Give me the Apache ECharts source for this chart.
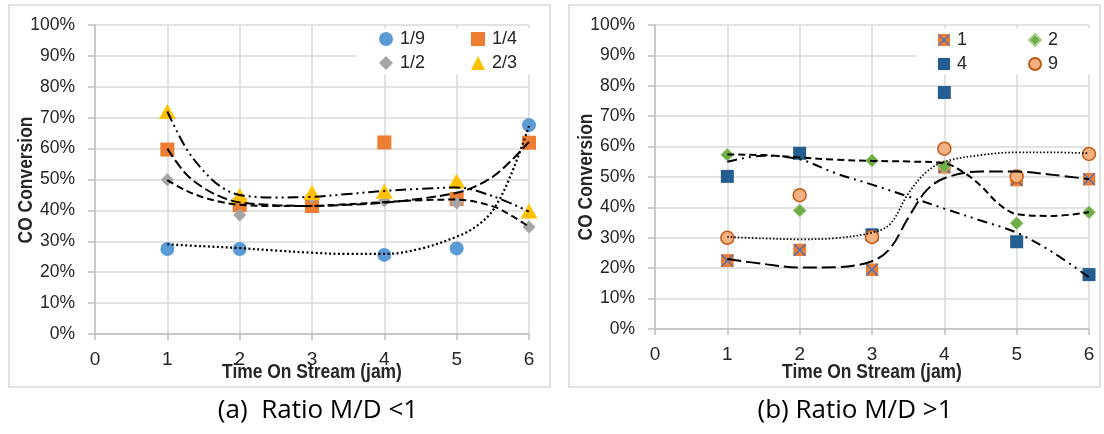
<!DOCTYPE html>
<html><head><meta charset="utf-8">
<script src="https://cdn.jsdelivr.net/npm/echarts@6/dist/echarts.min.js"></script>
<style>html,body{margin:0;padding:0;background:#fff}#c{width:1104px;height:434px}</style>
</head><body><div id="c"></div>
<script>
// ================= DATA =================
const hours = [1, 2, 3, 4, 5, 6];
const xTicks = [0, 1, 2, 3, 4, 5, 6];
const yTicks = [0, 10, 20, 30, 40, 50, 60, 70, 80, 90, 100];

// (a) Ratio M/D < 1  -- CO conversion (%)
const a19 = [27.5, 27.5, null, 25.6, 27.7, 67.6];
const a14 = [59.7, 41.7, 41.4, 62.0, 43.7, 61.9];
const a12 = [49.9, 38.5, 44.3, 43.1, 42.4, 34.6];
const a23 = [72.0, 44.8, 45.8, 46.2, 49.5, 39.8];

// (a) trendlines
const aT19x = [1, 1.5, 2, 2.5, 3, 3.5, 4, 4.5, 5, 5.25, 5.5, 5.75, 6];
const aT19  = [29.0, 28.4, 27.8, 27.0, 26.3, 25.9, 25.9, 27.6, 31.5, 34.5, 40.0, 51.5, 67.3];
const aT14x = [1, 1.25, 1.5, 1.75, 2, 2.5, 3, 3.5, 4, 4.5, 5, 5.25, 5.5, 5.75, 6];
const aT14  = [60.0, 52.0, 47.3, 44.3, 42.6, 41.7, 41.4, 41.8, 42.5, 43.8, 45.7, 47.7, 50.9, 56.0, 62.2];
const aT12x = [1, 1.25, 1.5, 1.75, 2, 2.5, 3, 3.5, 4, 4.5, 5, 5.5, 5.75, 6];
const aT12  = [49.8, 46.5, 44.2, 42.7, 41.8, 41.4, 41.5, 42.0, 42.7, 43.3, 43.5, 41.3, 38.4, 34.7];
const aT23x = [1, 1.25, 1.5, 1.75, 2, 2.5, 3, 3.5, 4, 4.5, 5, 5.5, 6];
const aT23  = [72.0, 60.5, 52.8, 47.5, 45.0, 44.2, 44.4, 45.3, 46.3, 47.0, 47.4, 44.6, 39.6];

// (b) Ratio M/D > 1  -- CO conversion (%)
const b1 = [22.5, 26.0, 19.5, 53.2, 49.0, 49.3];
const b2 = [57.3, 39.0, 55.4, 53.5, 34.8, 38.4];
const b4 = [50.2, 57.8, 31.0, 77.8, 28.7, 17.9];
const b9 = [30.0, 44.0, 30.3, 59.3, 50.2, 57.6];

// (b) trendlines
const bT1x = [1, 1.5, 2, 2.5, 3, 3.25, 3.5, 3.75, 4, 4.5, 5, 5.5, 6];
const bT1  = [23.0, 21.4, 20.2, 20.3, 22.3, 26.5, 36.5, 45.5, 49.6, 51.8, 51.8, 50.7, 49.3];
const bT2x = [1, 1.5, 2, 2.5, 3, 3.5, 4, 4.25, 4.5, 4.75, 5, 5.5, 6];
const bT2  = [57.4, 57.2, 56.4, 55.7, 55.3, 55.1, 54.5, 51.8, 47.2, 41.2, 37.8, 37.2, 38.4];
const bT4x = [1, 1.5, 2, 2.5, 3, 3.5, 4, 4.5, 5, 5.5, 6];
const bT4  = [55.0, 57.0, 55.8, 51.2, 47.5, 43.6, 39.6, 35.7, 31.7, 25.2, 17.0];
const bT9x = [1, 1.5, 2, 2.5, 3, 3.25, 3.5, 3.75, 4, 4.5, 5, 5.5, 6];
const bT9  = [30.3, 29.8, 29.5, 29.9, 31.7, 34.5, 44.5, 51.6, 55.0, 57.2, 58.1, 58.1, 57.8];

const xTitle = 'Time On Stream (jam)';
const yTitle = 'CO Conversion';
const captionA = '(a)  Ratio M/D <1';
const captionB = '(b) Ratio M/D >1';

// ================= STYLE / BUILD =================
const FONT = "'Liberation Sans', Arial, sans-serif";
const TXT = '#262626';
const GRID = '#D9D9D9';
const AX = '#BFBFBF';
const NARROW = 0.83;

const xSq = 'image://data:image/svg+xml;charset=utf-8,' + encodeURIComponent(
  "<svg xmlns='http://www.w3.org/2000/svg' width='28' height='28' viewBox='0 0 14 14'>" +
  "<rect width='14' height='14' fill='#ED7D31'/>" +
  "<path d='M0.8,0.8L13.2,13.2M13.2,0.8L0.8,13.2' stroke='#4472C4' stroke-width='1.5' fill='none'/></svg>");

function pts(arr) { return hours.map((h, i) => [h, arr[i]]).filter(d => d[1] != null); }
function sc(name, arr, ai, symbol, size, style, z) {
  return { type: 'scatter', name, xAxisIndex: ai, yAxisIndex: ai, symbol, symbolSize: size,
    itemStyle: Object.assign({ opacity: 1 }, style), data: pts(arr), z, silent: true, emphasis: { disabled: true } };
}
function tl(name, xs, vs, ai, dash, width) {
  return { type: 'line', name, xAxisIndex: ai, yAxisIndex: ai, data: xs.map((x, i) => [x, vs[i]]),
    smooth: 0.35, showSymbol: false, symbol: 'none', lineStyle: { color: '#000', width, type: dash },
    z: 6, silent: true, emphasis: { disabled: true } };
}
function xAx(gi) {
  return { type: 'value', gridIndex: gi, min: xTicks[0], max: xTicks[xTicks.length - 1], interval: 1,
    axisLine: { show: true, onZero: false, lineStyle: { color: AX, width: 1.5 } },
    axisTick: { show: true, length: 6, lineStyle: { color: AX, width: 1.5 } },
    axisLabel: { fontFamily: FONT, fontSize: 19, color: TXT, margin: 16 },
    splitLine: { show: true, lineStyle: { color: GRID, width: 1.5 } } };
}
function yAx(gi) {
  return { type: 'value', gridIndex: gi, min: yTicks[0], max: yTicks[yTicks.length - 1], interval: 10,
    axisLine: { show: true, lineStyle: { color: AX, width: 1.5 } },
    axisTick: { show: true, length: 7, lineStyle: { color: AX, width: 1.5 } },
    axisLabel: { fontFamily: FONT, fontSize: 17.5, color: TXT, margin: 20, formatter: '{value}%' },
    splitLine: { show: true, lineStyle: { color: GRID, width: 1.5 } } };
}
function lg(names, left, top, gap, size) {
  return { data: names, left, top, orient: 'horizontal', itemWidth: size, itemHeight: size, itemGap: gap,
    selectedMode: false, z: 10,
    textStyle: { fontFamily: FONT, fontSize: 18, color: TXT, padding: [0, 0, 0, 2] } };
}
function title(text, x, y, rot) {
  return { type: 'text', x, y, rotation: rot, scaleX: NARROW, z: 8,
    style: { text, font: "bold 21px 'Liberation Sans', Arial, sans-serif", fill: TXT,
      textAlign: 'center', textVerticalAlign: 'middle' } };
}

const option = {
  animation: false,
  backgroundColor: '#fff',
  grid: [
    { left: 95, right: 1104 - 529, top: 25, bottom: 434 - 334 },
    { left: 655, right: 1104 - 1089, top: 25, bottom: 434 - 329 }
  ],
  xAxis: [xAx(0), xAx(1)],
  yAxis: [yAx(0), yAx(1)],
  legend: [
    lg(['1/9', '1/4'], 374, 25, 46, 14),
    lg(['1/2', '2/3'], 374, 49, 46, 14),
    lg(['1', '2'], 933, 26, 61, 12),
    lg(['4', '9'], 933, 50, 61, 12)
  ],
  graphic: [
    { type: 'rect', shape: { x: 9, y: 5, width: 541, height: 382 }, style: { fill: 'none', stroke: GRID, lineWidth: 1.5 }, z: 0 },
    { type: 'rect', shape: { x: 569, y: 5, width: 531, height: 382 }, style: { fill: 'none', stroke: GRID, lineWidth: 1.5 }, z: 0 },
    { type: 'rect', shape: { x: 357, y: 28, width: 174, height: 47 }, style: { fill: '#fff' }, z: 3 },
    { type: 'rect', shape: { x: 917, y: 28, width: 174, height: 47 }, style: { fill: '#fff' }, z: 3 },
    title(xTitle, 312, 372, 0),
    title(xTitle, 872, 372, 0),
    title(yTitle, 26, 180, Math.PI / 2),
    title(yTitle, 586, 177, Math.PI / 2),
    { type: 'text', x: 318, y: 411, z: 8, style: { text: captionA, font: "26px 'Open Sans', sans-serif", fill: '#000', textAlign: 'center', textVerticalAlign: 'middle' } },
    { type: 'text', x: 855, y: 411, z: 8, style: { text: captionB, font: "26px 'Open Sans', sans-serif", fill: '#000', textAlign: 'center', textVerticalAlign: 'middle' } }
  ],
  series: [
    sc('1/9', a19, 0, 'circle', 14, { color: '#5B9BD5' }, 2),
    sc('1/4', a14, 0, 'rect', 14, { color: '#ED7D31' }, 2),
    sc('1/2', a12, 0, 'diamond', 13, { color: '#A5A5A5' }, 2),
    sc('2/3', a23, 0, 'triangle', [17, 15], { color: '#FFC000' }, 2),
    tl('1/9 trend', aT19x, aT19, 0, [2, 2.5], 2.25),
    tl('1/4 trend', aT14x, aT14, 0, [10, 4], 2),
    tl('1/2 trend', aT12x, aT12, 0, [7, 4], 2),
    tl('2/3 trend', aT23x, aT23, 0, [11, 4, 2, 4, 2, 4], 2),

    sc('1', b1, 1, xSq, 13, { color: '#ED7D31' }, 2),
    sc('2', b2, 1, 'diamond', 13, { color: '#70AD47', borderColor: '#A9D18E', borderWidth: 1 }, 2),
    sc('4', b4, 1, 'rect', 13, { color: '#255E91' }, 2),
    sc('9', b9, 1, 'circle', 13, { color: '#F4B183', borderColor: '#C55A11', borderWidth: 1.5 }, 2),
    tl('1 trend', bT1x, bT1, 1, [14, 5], 2),
    tl('2 trend', bT2x, bT2, 1, [7, 4], 2),
    tl('4 trend', bT4x, bT4, 1, [10, 5, 2, 5, 2, 5], 2),
    tl('9 trend', bT9x, bT9, 1, [1.5, 2], 1.75)
  ]
};
const chart = echarts.init(document.getElementById('c'), null, { renderer: 'canvas' });
chart.setOption(option);
</script></body></html>
